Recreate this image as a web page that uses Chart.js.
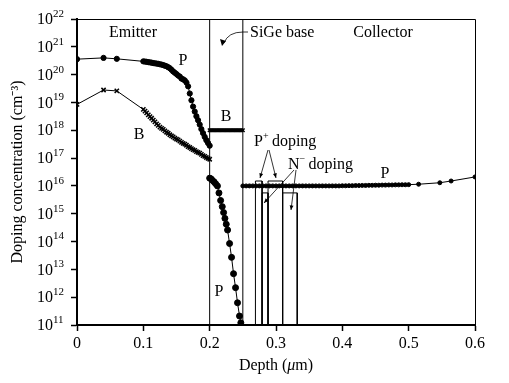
<!DOCTYPE html>
<html>
<head>
<meta charset="utf-8">
<script src="https://cdn.jsdelivr.net/npm/chart.js@4/dist/chart.umd.min.js"></script>
<style>
  html, body { margin: 0; padding: 0; background: #fff; }
  #wrap { width: 509px; height: 383px; position: relative; }
</style>
</head>
<body>
<div id="wrap"><canvas id="c" width="509" height="383"></canvas></div>
<script>
// Doping profile of a SiGe HBT.

const SERIF = "'Liberation Serif', 'Times New Roman', serif";

// Emitter depths, shared by the emitter P and B profiles
const emitterDepth = [0, 0.04, 0.06,
  0.1, 0.1025, 0.105, 0.1075, 0.11, 0.1125, 0.115, 0.1175, 0.12, 0.1225,
  0.125, 0.1275, 0.13, 0.1325, 0.135, 0.1375, 0.14, 0.1425, 0.145, 0.1475,
  0.15, 0.1525, 0.155, 0.1575, 0.16, 0.1625, 0.165, 0.1675, 0.17, 0.1725,
  0.175, 0.1775, 0.18, 0.1825, 0.185, 0.1875, 0.19, 0.1925, 0.195, 0.1975, 0.2];

// Emitter phosphorus (filled circles)
const emitterPConc = [3.6e20, 4.0e20, 3.7e20,
  3.0e20, 2.95e20, 2.9e20, 2.8e20, 2.75e20, 2.7e20, 2.6e20, 2.55e20, 2.5e20, 2.45e20,
  2.35e20, 2.3e20, 2.2e20, 2.1e20, 2.0e20, 1.85e20, 1.7e20, 1.5e20, 1.3e20, 1.17e20,
  1.05e20, 9.3e19, 8.5e19, 7.2e19, 6.8e19, 6.2e19, 5.2e19, 3.8e19, 2.1e19, 1.2e19,
  7.1e18, 4.7e18, 3.2e18, 2.3e18, 1.6e18, 1.1e18, 7.9e17, 5.8e17, 4.4e17, 3.5e17, 2.8e17];

// Emitter boron (crosses)
const emitterBConc = [8.5e18, 2.8e19, 2.6e19,
  5.6e18, 4.9e18, 4.2e18, 3.6e18, 3.1e18, 2.7e18, 2.3e18, 2.0e18, 1.7e18, 1.5e18,
  1.3e18, 1.17e18, 1.07e18, 9.5e17, 8.5e17, 7.8e17, 6.9e17, 6.3e17, 5.8e17, 5.2e17,
  4.8e17, 4.5e17, 4.1e17, 3.7e17, 3.4e17, 3.2e17, 2.9e17, 2.6e17, 2.4e17, 2.2e17,
  2.0e17, 1.9e17, 1.7e17, 1.6e17, 1.5e17, 1.35e17, 1.23e17, 1.15e17, 1.05e17, 9.8e16, 9.1e16];

// Base boron (flat)
const baseBDepth = [0.2, 0.2025, 0.205, 0.2075, 0.21, 0.2125, 0.215, 0.2175, 0.22, 0.2225, 0.225,
  0.2275, 0.23, 0.2325, 0.235, 0.2375, 0.24, 0.2425, 0.245, 0.2475, 0.25];
const baseBConc = [1e18, 1e18, 1e18, 1e18, 1e18, 1e18, 1e18, 1e18, 1e18, 1e18, 1e18,
  1e18, 1e18, 1e18, 1e18, 1e18, 1e18, 1e18, 1e18, 1e18, 1e18];

// Phosphorus tail into the base
const basePDepth = [0.2, 0.202, 0.204, 0.2066, 0.209, 0.2117, 0.214, 0.2165, 0.219, 0.221, 0.223, 0.225, 0.227,
  0.230, 0.233, 0.236, 0.239, 0.242, 0.245, 0.247];
const basePConc = [1.9e16, 1.8e16, 1.6e16, 1.4e16, 1.2e16, 1.0e16, 5.6e15, 3.0e15, 1.8e15, 1.1e15, 6.8e14, 4.2e14, 2.6e14,
  8.5e13, 2.7e13, 7.0e12, 2.2e12, 6.3e11, 2.1e11, 1.2e11];

// Collector phosphorus
const collPDepth = [0.25, 0.255, 0.26, 0.265, 0.27, 0.275, 0.28, 0.285, 0.29, 0.295, 0.3,
  0.305, 0.31, 0.315, 0.32, 0.325, 0.33, 0.335, 0.34, 0.345, 0.35,
  0.355, 0.36, 0.365, 0.37, 0.375, 0.38, 0.385, 0.39, 0.395, 0.4,
  0.405, 0.41, 0.415, 0.42, 0.425, 0.43, 0.435, 0.44, 0.445, 0.45,
  0.455, 0.46, 0.465, 0.47, 0.475, 0.48, 0.485, 0.49, 0.495, 0.5,
  0.515, 0.547, 0.564, 0.6];
const collPConc = [1e16, 1e16, 1e16, 1e16, 1e16, 1e16, 1e16, 1e16, 1e16, 1e16, 1e16,
  1e16, 1e16, 1e16, 1e16, 1e16, 1e16, 1e16, 1e16, 1e16, 1e16,
  1e16, 1e16, 1e16, 1e16, 1e16, 1e16, 1e16, 1e16, 1e16, 1.01e16,
  1.01e16, 1.02e16, 1.02e16, 1.03e16, 1.03e16, 1.04e16, 1.04e16, 1.05e16, 1.05e16, 1.06e16,
  1.06e16, 1.07e16, 1.07e16, 1.08e16, 1.08e16, 1.09e16, 1.09e16, 1.1e16, 1.1e16, 1.11e16,
  1.15e16, 1.3e16, 1.5e16, 2.1e16];

// Region boundaries (emitter/base, base/collector)
const boundaries = [0.2, 0.25];

// Implant windows: [left, right, top]
const pPlusWindows = [[0.269, 0.279, 1.5e16], [0.288, 0.31, 1.5e16]];
const nMinusWindows = [[0.279, 0.288, 5.6e15], [0.31, 0.332, 5.6e15]];

const yExponents = [11, 12, 13, 14, 15, 16, 17, 18, 19, 20, 21, 22];
const xTicks = [0, 0.1, 0.2, 0.3, 0.4, 0.5, 0.6];

function pts(xs, ys) { return xs.map((x, i) => ({ x, y: ys[i] })); }

function series(data, style, radius, bw) {
  return {
    data, showLine: true, borderColor: '#000', borderWidth: 1,
    pointStyle: style, pointRadius: radius, pointBorderColor: '#000',
    pointBackgroundColor: '#000', pointBorderWidth: bw, pointHoverRadius: radius,
  };
}

function plainLine(data) {
  return { data, showLine: true, borderColor: '#000', borderWidth: 1, pointRadius: 0, pointHoverRadius: 0 };
}

const datasets = [
  series(pts(emitterDepth, emitterPConc), 'circle', 2.6, 1),
  series(pts(emitterDepth, emitterBConc), 'crossRot', 3, 1.5),
  series(pts(baseBDepth, baseBConc), 'crossRot', 2.5, 1.5),
  series(pts(basePDepth, basePConc), 'circle', 3, 1),
  series(pts(collPDepth, collPConc), 'circle', 2, 1),
];
boundaries.forEach(b => datasets.push(plainLine([{ x: b, y: 1e11 }, { x: b, y: 1e22 }])));
pPlusWindows.concat(nMinusWindows).forEach(([l, r, t]) => {
  datasets.push(plainLine([{ x: l, y: 1e11 }, { x: l, y: t }, { x: r, y: t }, { x: r, y: 1e11 }]));
});

function arrow(ctx, x1, y1, x2, y2) {
  ctx.beginPath(); ctx.moveTo(x1, y1); ctx.lineTo(x2, y2); ctx.stroke();
  const a = Math.atan2(y2 - y1, x2 - x1), L = 5;
  ctx.beginPath();
  ctx.moveTo(x2, y2);
  ctx.lineTo(x2 - L * Math.cos(a - 0.4), y2 - L * Math.sin(a - 0.4));
  ctx.lineTo(x2 - L * Math.cos(a + 0.4), y2 - L * Math.sin(a + 0.4));
  ctx.closePath(); ctx.fill();
}

const decorations = {
  id: 'decorations',
  afterDraw(chart) {
    const ctx = chart.ctx, ys = chart.scales.y, a = chart.chartArea;
    ctx.save();
    ctx.fillStyle = '#000'; ctx.strokeStyle = '#000';

    // top and right frame
    ctx.lineWidth = 1;
    ctx.beginPath();
    ctx.moveTo(a.left, a.top + 0.5); ctx.lineTo(a.right + 0.5, a.top + 0.5); ctx.lineTo(a.right + 0.5, a.bottom);
    ctx.stroke();

    // y tick labels 10^n
    ctx.textBaseline = 'middle';
    yExponents.forEach(n => {
      const y = ys.getPixelForValue(Math.pow(10, n));
      ctx.font = '16px ' + SERIF; ctx.textAlign = 'right';
      ctx.fillText('10', 53, y + 1);
      ctx.font = '11px ' + SERIF; ctx.textAlign = 'left';
      ctx.fillText(String(n), 53, y - 5);
    });

    // x axis title with italic mu
    ctx.textBaseline = 'alphabetic'; ctx.textAlign = 'left';
    const cx = (a.left + a.right) / 2;
    const p1 = 'Depth (', p2 = '\u03bc', p3 = 'm)';
    ctx.font = '16px ' + SERIF; const w1 = ctx.measureText(p1).width, w3 = ctx.measureText(p3).width;
    ctx.font = 'italic 16px ' + SERIF; const w2 = ctx.measureText(p2).width;
    const x0 = cx - (w1 + w2 + w3) / 2;
    ctx.font = '16px ' + SERIF; ctx.fillText(p1, x0, 370);
    ctx.font = 'italic 16px ' + SERIF; ctx.fillText(p2, x0 + w1, 370);
    ctx.font = '16px ' + SERIF; ctx.fillText(p3, x0 + w1 + w2, 370);

    // region labels
    ctx.font = '16px ' + SERIF; ctx.textBaseline = 'middle';
    ctx.textAlign = 'center';
    ctx.fillText('Emitter', 133, 33);
    ctx.fillText('Collector', 383, 33);
    ctx.textAlign = 'left';
    ctx.fillText('SiGe base', 250, 33);
    ctx.textAlign = 'center';
    ctx.fillText('P', 183, 61);
    ctx.fillText('B', 139, 135);
    ctx.fillText('B', 226, 117);
    ctx.fillText('P', 385, 174);
    ctx.fillText('P', 219, 292);

    // P+ doping / N- doping
    ctx.textAlign = 'left';
    ctx.font = '16px ' + SERIF; ctx.fillText('P', 254, 142);
    let w = ctx.measureText('P').width;
    ctx.font = '10px ' + SERIF; ctx.fillText('+', 254 + w, 136);
    ctx.font = '16px ' + SERIF; ctx.fillText(' doping', 254 + w + 5, 142);
    ctx.fillText('N', 288, 165);
    w = ctx.measureText('N').width;
    ctx.font = '10px ' + SERIF; ctx.fillText('\u2212', 288 + w, 159);
    ctx.font = '16px ' + SERIF; ctx.fillText(' doping', 288 + w + 5, 165);

    // arrows
    ctx.lineWidth = 0.8;
    arrow(ctx, 268, 150, 260, 178);
    arrow(ctx, 269, 150, 276, 178);
    arrow(ctx, 294, 170, 264, 203);
    arrow(ctx, 296, 170, 291, 210);

    // curved SiGe base arrow
    ctx.beginPath();
    ctx.moveTo(248, 32);
    ctx.lineTo(243, 32);
    ctx.quadraticCurveTo(228, 32, 224, 43);
    ctx.stroke();
    ctx.beginPath();
    ctx.moveTo(222, 46); ctx.lineTo(220, 39); ctx.lineTo(226, 41); ctx.closePath(); ctx.fill();

    ctx.restore();
  }
};

new Chart(document.getElementById('c'), {
  type: 'scatter',
  data: { datasets },
  options: {
    responsive: false,
    animation: false,
    events: [],
    layout: { padding: { top: 19, right: 34, left: 0, bottom: 0 } },
    plugins: { legend: { display: false }, tooltip: { enabled: false } },
    scales: {
      x: {
        type: 'linear', min: 0, max: 0.6,
        afterBuildTicks: s => { s.ticks = xTicks.map(v => ({ value: v })); },
        afterFit: s => { s.height = 58; },
        ticks: {
          color: '#000', padding: 3, maxRotation: 0,
          font: { family: SERIF, size: 16 },
          callback: v => (v === 0 ? '0' : String(Math.round(v * 10) / 10)),
        },
        grid: { drawOnChartArea: false, tickLength: 6, tickWidth: 1.5, color: '#000' },
        border: { color: '#000', width: 2 },
      },
      y: {
        type: 'logarithmic', min: 1e11, max: 1e22,
        afterBuildTicks: s => { s.ticks = yExponents.map(n => ({ value: Math.pow(10, n) })); },
        afterFit: s => { s.width = 77; },
        ticks: { callback: () => '', font: { family: SERIF, size: 16 } },
        grid: { drawOnChartArea: false, tickLength: 6, tickWidth: 1.5, color: '#000' },
        border: { color: '#000', width: 2 },
        title: {
          display: true, text: 'Doping concentration (cm\u207B\u00B3)', color: '#000',
          font: { family: SERIF, size: 16 }, padding: { top: 8, bottom: 0 },
        },
      },
    },
  },
  plugins: [decorations],
});
</script>
</body>
</html>
